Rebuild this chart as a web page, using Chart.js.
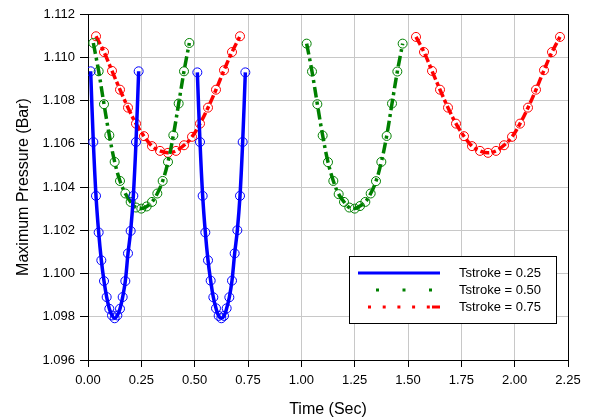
<!DOCTYPE html>
<html>
<head>
<meta charset="utf-8">
<script src="https://cdn.jsdelivr.net/npm/chart.js@4.4.1/dist/chart.umd.min.js"></script>
<style>
html, body { margin: 0; padding: 0; background: #fff; }
#wrap { width: 591px; height: 417px; }
</style>
</head>
<body>
<div id="wrap"><canvas id="chart"></canvas></div>
<script>
const seriesLabels = ["Tstroke = 0.25", "Tstroke = 0.50", "Tstroke = 0.75"];

// Tstroke = 0.25
const blueTimeA = [0.0125, 0.025, 0.0375, 0.05, 0.0625, 0.075, 0.0875, 0.1, 0.1125, 0.125,
	0.1375, 0.15, 0.1625, 0.175, 0.1875, 0.2, 0.2125, 0.225, 0.2375];
const bluePressureA = [1.10935, 1.10608, 1.10359, 1.10190, 1.10061, 1.09965, 1.09891, 1.09837, 1.09806, 1.09793,
	1.09806, 1.09837, 1.09891, 1.09965, 1.10093, 1.10197, 1.10359, 1.10608, 1.10935];
const blueTimeB = [0.5125, 0.525, 0.5375, 0.55, 0.5625, 0.575, 0.5875, 0.6, 0.6125, 0.625,
	0.6375, 0.65, 0.6625, 0.675, 0.6875, 0.7, 0.7125, 0.725, 0.7375];
const bluePressureB = [1.10930, 1.10608, 1.10359, 1.10190, 1.10061, 1.09967, 1.09890, 1.09839, 1.09804, 1.09793,
	1.09804, 1.09839, 1.09890, 1.09967, 1.10093, 1.10200, 1.10359, 1.10608, 1.10930];

// Tstroke = 0.50
const greenTimeA = [0.025, 0.05, 0.075, 0.1, 0.125, 0.15, 0.175, 0.2, 0.225, 0.25,
	0.275, 0.3, 0.325, 0.35, 0.375, 0.4, 0.425, 0.45, 0.475];
const greenPressureA = [1.11066, 1.10935, 1.10783, 1.10639, 1.10516, 1.10428, 1.10370, 1.10331, 1.10305, 1.10300,
	1.10310, 1.10331, 1.10370, 1.10428, 1.10516, 1.10639, 1.10786, 1.10935, 1.11066];
const greenTimeB = [1.025, 1.05, 1.075, 1.1, 1.125, 1.15, 1.175, 1.2, 1.225, 1.25,
	1.275, 1.3, 1.325, 1.35, 1.375, 1.4, 1.425, 1.45, 1.475];
const greenPressureB = [1.11063, 1.10934, 1.10783, 1.10638, 1.10515, 1.10428, 1.10367, 1.10331, 1.10305, 1.10300,
	1.10312, 1.10331, 1.10370, 1.10427, 1.10516, 1.10636, 1.10786, 1.10934, 1.11063];

// Tstroke = 0.75
const redTimeA = [0.0375, 0.075, 0.1125, 0.15, 0.1875, 0.225, 0.2625, 0.3, 0.3375, 0.375,
	0.4125, 0.45, 0.4875, 0.525, 0.5625, 0.6, 0.6375, 0.675, 0.7125];
const redPressureA = [1.11097, 1.11024, 1.10937, 1.10850, 1.10767, 1.10693, 1.10635, 1.10589, 1.10567, 1.10558,
	1.10567, 1.10593, 1.10632, 1.10693, 1.10767, 1.10850, 1.10940, 1.11024, 1.11097];
const redTimeB = [1.5375, 1.575, 1.6125, 1.65, 1.6875, 1.725, 1.7625, 1.8, 1.8375, 1.875,
	1.9125, 1.95, 1.9875, 2.025, 2.0625, 2.1, 2.1375, 2.175, 2.2125];
const redPressureB = [1.11094, 1.11024, 1.10937, 1.10850, 1.10767, 1.10693, 1.10635, 1.10589, 1.10567, 1.10558,
	1.10567, 1.10593, 1.10632, 1.10693, 1.10767, 1.10850, 1.10940, 1.11024, 1.11094];

const fontFamily = "'Liberation Sans', Arial, sans-serif";

const toPoints = (times, values) => times.map((t, i) => ({ x: t, y: values[i] }));

const lineStyles = [
	{ color: "#0000ff", dash: [], legendDash: [] },
	{ color: "#008000", dash: [11, 4, 3, 4], legendDash: [3, 23.5] },
	{ color: "#ff0000", dash: [9, 3, 4, 3], legendDash: [3, 11.7] }
];

const makeDataset = (series, times, values) => ({
	label: seriesLabels[series],
	data: toPoints(times, values),
	borderColor: lineStyles[series].color,
	borderWidth: 3.5,
	borderDash: lineStyles[series].dash,
	tension: 0.4,
	pointRadius: 4.5,
	pointBorderWidth: 1,
	pointBorderColor: lineStyles[series].color,
	pointBackgroundColor: "rgba(0,0,0,0)",
	fill: false
});

const datasets = [
	makeDataset(0, blueTimeA, bluePressureA),
	makeDataset(0, blueTimeB, bluePressureB),
	makeDataset(1, greenTimeA, greenPressureA),
	makeDataset(1, greenTimeB, greenPressureB),
	makeDataset(2, redTimeA, redPressureA),
	makeDataset(2, redTimeB, redPressureB)
];

// frame on top/right and the boxed legend inside the plot
const framePlugin = {
	id: "framePlugin",
	afterDraw(chart) {
		const ctx = chart.ctx;
		const a = chart.chartArea;
		ctx.save();
		ctx.strokeStyle = "#000";
		ctx.lineWidth = 1;
		ctx.beginPath();
		ctx.moveTo(Math.round(a.left) + 0.5, Math.round(a.top) + 0.5);
		ctx.lineTo(Math.round(a.right) + 0.5, Math.round(a.top) + 0.5);
		ctx.lineTo(Math.round(a.right) + 0.5, Math.round(a.bottom) + 0.5);
		ctx.stroke();

		ctx.fillStyle = "#fff";
		ctx.fillRect(349.5, 256.5, 207, 67);
		ctx.strokeRect(349.5, 256.5, 207, 67);

		seriesLabels.forEach((label, i) => {
			const y = 273 + i * 17;
			ctx.strokeStyle = lineStyles[i].color;
			ctx.lineWidth = 3;
			ctx.setLineDash(lineStyles[i].legendDash);
			ctx.beginPath();
			if (i === 1) {
				ctx.moveTo(376, y);
				ctx.lineTo(432, y);
			} else if (i === 2) {
				ctx.moveTo(368, y);
				ctx.lineTo(430, y);
			} else {
				ctx.moveTo(358, y);
				ctx.lineTo(440, y);
			}
			ctx.stroke();
			if (i === 2) {
				ctx.setLineDash([]);
				ctx.beginPath();
				ctx.moveTo(432, y);
				ctx.lineTo(440, y);
				ctx.stroke();
			}
			ctx.setLineDash([]);
			ctx.fillStyle = "#000";
			ctx.font = "13px " + fontFamily;
			ctx.textBaseline = "middle";
			ctx.textAlign = "left";
			ctx.fillText(label, 459, y);
		});
		ctx.restore();
	}
};

new Chart(document.getElementById("chart"), {
	type: "line",
	data: { datasets: datasets },
	options: {
		responsive: true,
		maintainAspectRatio: false,
		animation: false,
		layout: { padding: { top: 14, right: 23, left: 0, bottom: 0 } },
		plugins: {
			legend: { display: false },
			tooltip: { enabled: false }
		},
		scales: {
			x: {
				type: "linear",
				min: 0,
				max: 2.25,
				afterFit: (scale) => { scale.height = 57; },
				ticks: {
					stepSize: 0.25,
					callback: (v) => v.toFixed(2),
					color: "#000",
					font: { family: fontFamily, size: 13 },
					padding: 6,
					maxRotation: 0
				},
				grid: { color: "#c8c8c8", tickColor: "#000", tickLength: 7 },
				border: { color: "#000", width: 1 },
				title: {
					display: true,
					text: "Time (Sec)",
					color: "#000",
					font: { family: fontFamily, size: 16 },
					padding: { top: 2, bottom: -2 }
				}
			},
			y: {
				min: 1.096,
				max: 1.112,
				afterFit: (scale) => { scale.width = 88; },
				ticks: {
					stepSize: 0.002,
					callback: (v) => v.toFixed(3),
					color: "#000",
					font: { family: fontFamily, size: 13 },
					padding: 5
				},
				grid: { color: "#c8c8c8", tickColor: "#000", tickLength: 8 },
				border: { color: "#000", width: 1 },
				title: {
					display: true,
					text: "Maximum Pressure (Bar)",
					color: "#000",
					font: { family: fontFamily, size: 16 },
					padding: { top: 14, bottom: 2 }
				}
			}
		}
	},
	plugins: [framePlugin]
});
</script>
</body>
</html>
